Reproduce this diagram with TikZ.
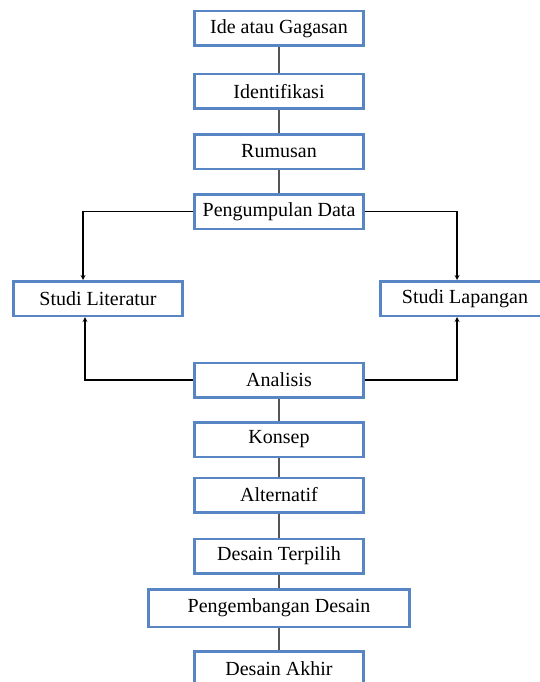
\documentclass[tikz,border=0pt]{standalone}
\usepackage{fontspec}
\setmainfont{Liberation Serif}
\usetikzlibrary{arrows}
\definecolor{boxblue}{RGB}{88,134,196}
\definecolor{linkgray}{RGB}{85,85,85}
\tikzstyle{stage}=[draw=boxblue,line width=2.5pt,fill=white,minimum width=169pt,minimum height=34.5pt,inner sep=0pt,font=\fontsize{20}{24}\selectfont]

\begin{document}
\begin{tikzpicture}[x=1pt,y=-1pt,>=stealth]
\tikzstyle{link}=[draw=linkgray,line width=1.5pt]
\tikzstyle{feed}=[draw=black,line width=1.2pt,->]
  \clip (0,0) rectangle (540,682);
  \foreach \place/\name/\txt in {{(279,28.5)/ide/Ide atau Gagasan},
                                 {(279,91.5)/idf/Identifikasi},
                                 {(279,151.5)/rms/Rumusan},
                                 {(279,211.5)/pgl/Pengumpulan Data},
                                 {(98,298.5)/lit/Studi Literatur},
                                 {(465,298.5)/lap/Studi Lapangan},
                                 {(279,380)/ana/Analisis},
                                 {(279,439.5)/kon/Konsep},
                                 {(279,495)/alt/Alternatif},
                                 {(279,556)/dtp/Desain Terpilih},
                                 {(279,668.5)/dak/Desain Akhir}}
    \node[stage] (\name) at \place {\txt};
  \node[stage,minimum width=261pt,minimum height=37.5pt] (pgd) at (279,608) {Pengembangan Desain};
  \foreach \source/\dest in {ide/idf,idf/rms,rms/pgl,ana/kon,kon/alt,alt/dtp,dtp/pgd,pgd/dak}
      \path[link] (\source) edge (\dest);
  % data collection and analysis loops
  \draw[feed] (pgl.west) -| ([xshift=-15pt]lit.north);
  \draw[feed] (pgl.east) -| ([xshift=-8pt]lap.north);
  \draw[feed] (ana.west) -| ([xshift=-13pt]lit.south);
  \draw[feed] (ana.east) -| ([xshift=-8pt]lap.south);
\end{tikzpicture}
\end{document}
